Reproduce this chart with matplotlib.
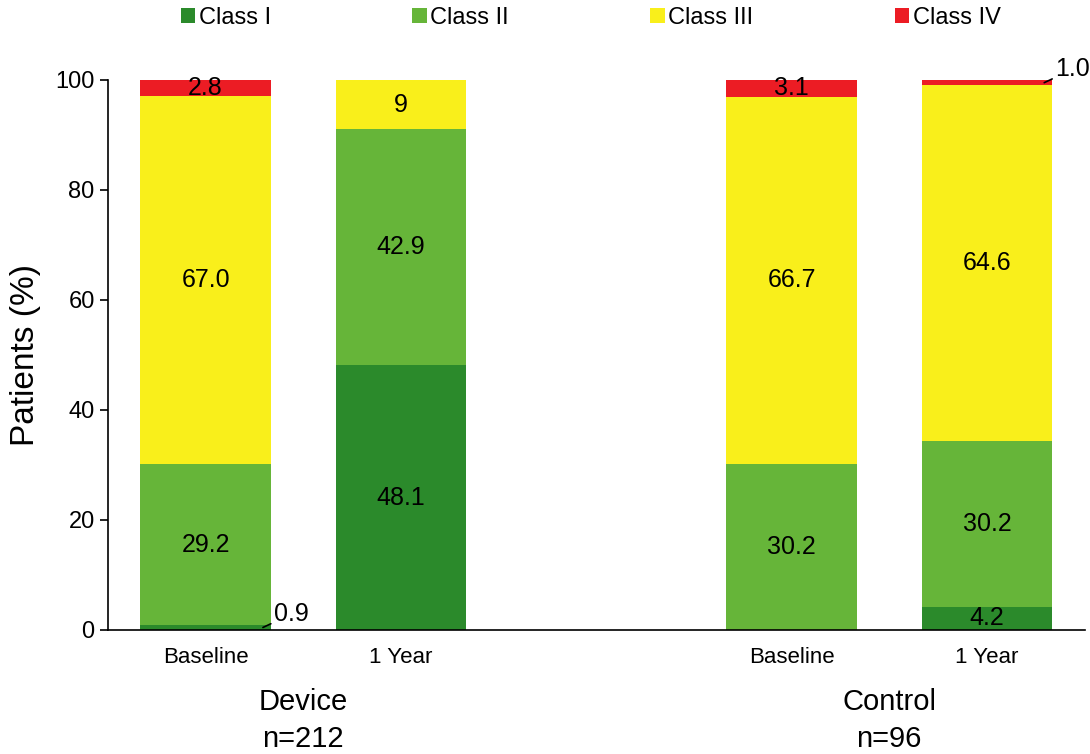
import numpy as np
import matplotlib
matplotlib.use("Agg")
import matplotlib.pyplot as plt

plt.rcParams['font.family'] = ['Liberation Sans', 'DejaVu Sans']

# datos
bar_labels = ['Baseline', '1 Year', 'Baseline', '1 Year']
groups = ['Device\nn=212', 'Control\nn=96']
classes = ['Class I', 'Class II', 'Class III', 'Class IV']
class_i = [0.9, 48.1, 0.0, 4.2]
class_ii = [29.2, 42.9, 30.2, 30.2]
class_iii = [67.0, 9.0, 66.7, 64.6]
class_iv = [2.8, 0.0, 3.1, 1.0]
label_text = [
    ['0.9', '48.1', '', '4.2'],
    ['29.2', '42.9', '30.2', '30.2'],
    ['67.0', '9', '66.7', '64.6'],
    ['2.8', '', '3.1', '1.0'],
]
colors = ['#2b8a2b', '#66b539', '#f9ef1b', '#ec1c24']

x = np.array([0, 1, 3, 4])
width = 0.667

fig = plt.figure(figsize=(10.9, 7.54), dpi=100)
ax = fig.add_axes([0.099, 0.1645, 0.896, 0.7295])

series = [class_i, class_ii, class_iii, class_iv]
bottom = np.zeros(len(x))
for k, vals in enumerate(series):
    vals = np.array(vals)
    ax.bar(x, vals, width, bottom=bottom, color=colors[k], label=classes[k])
    for i in range(len(x)):
        txt = label_text[k][i]
        if txt == '':
            continue
        if vals[i] < 2:
            # etiqueta fuera de la barra con línea guía
            yb = bottom[i] + vals[i] / 2
            ax.annotate(txt, xy=(x[i] + width / 2 - 0.04, yb),
                        xytext=(x[i] + width / 2 + 0.015, yb + 2.4),
                        fontsize=18, ha='left', va='center',
                        arrowprops=dict(arrowstyle='-', color='black', lw=1.2,
                                        shrinkA=0, shrinkB=0))
        else:
            ax.text(x[i], bottom[i] + vals[i] / 2, txt, ha='center',
                    va='center', fontsize=18)
    bottom = bottom + vals

ax.set_xlim(-0.5, 4.5)
ax.set_ylim(0, 100)
ax.set_yticks([0, 20, 40, 60, 80, 100])
ax.set_xticks(x)
ax.set_xticklabels(bar_labels, fontsize=16)
ax.tick_params(axis='y', labelsize=17, length=6, width=1.2, direction='out')
ax.tick_params(axis='x', length=0, pad=12)
ax.spines['top'].set_visible(False)
ax.spines['right'].set_visible(False)
ax.spines['left'].set_linewidth(1.2)
ax.spines['bottom'].set_linewidth(1.2)
ax.set_ylabel('Patients (%)', fontsize=24, labelpad=10)

# etiquetas de grupo
for gx, g in zip([0.5, 3.5], groups):
    ax.text(gx, -10.5, g, ha='center', va='top', fontsize=21,
            linespacing=1.43, transform=ax.transData)

fig.legend(*ax.get_legend_handles_labels(), loc='center',
           bbox_to_anchor=(0.542, 0.976), ncol=4,
           frameon=False, fontsize=17, handlelength=0.6, handleheight=0.6,
           handletextpad=0.15, columnspacing=6.0)

fig.savefig('out.png', dpi=100)
